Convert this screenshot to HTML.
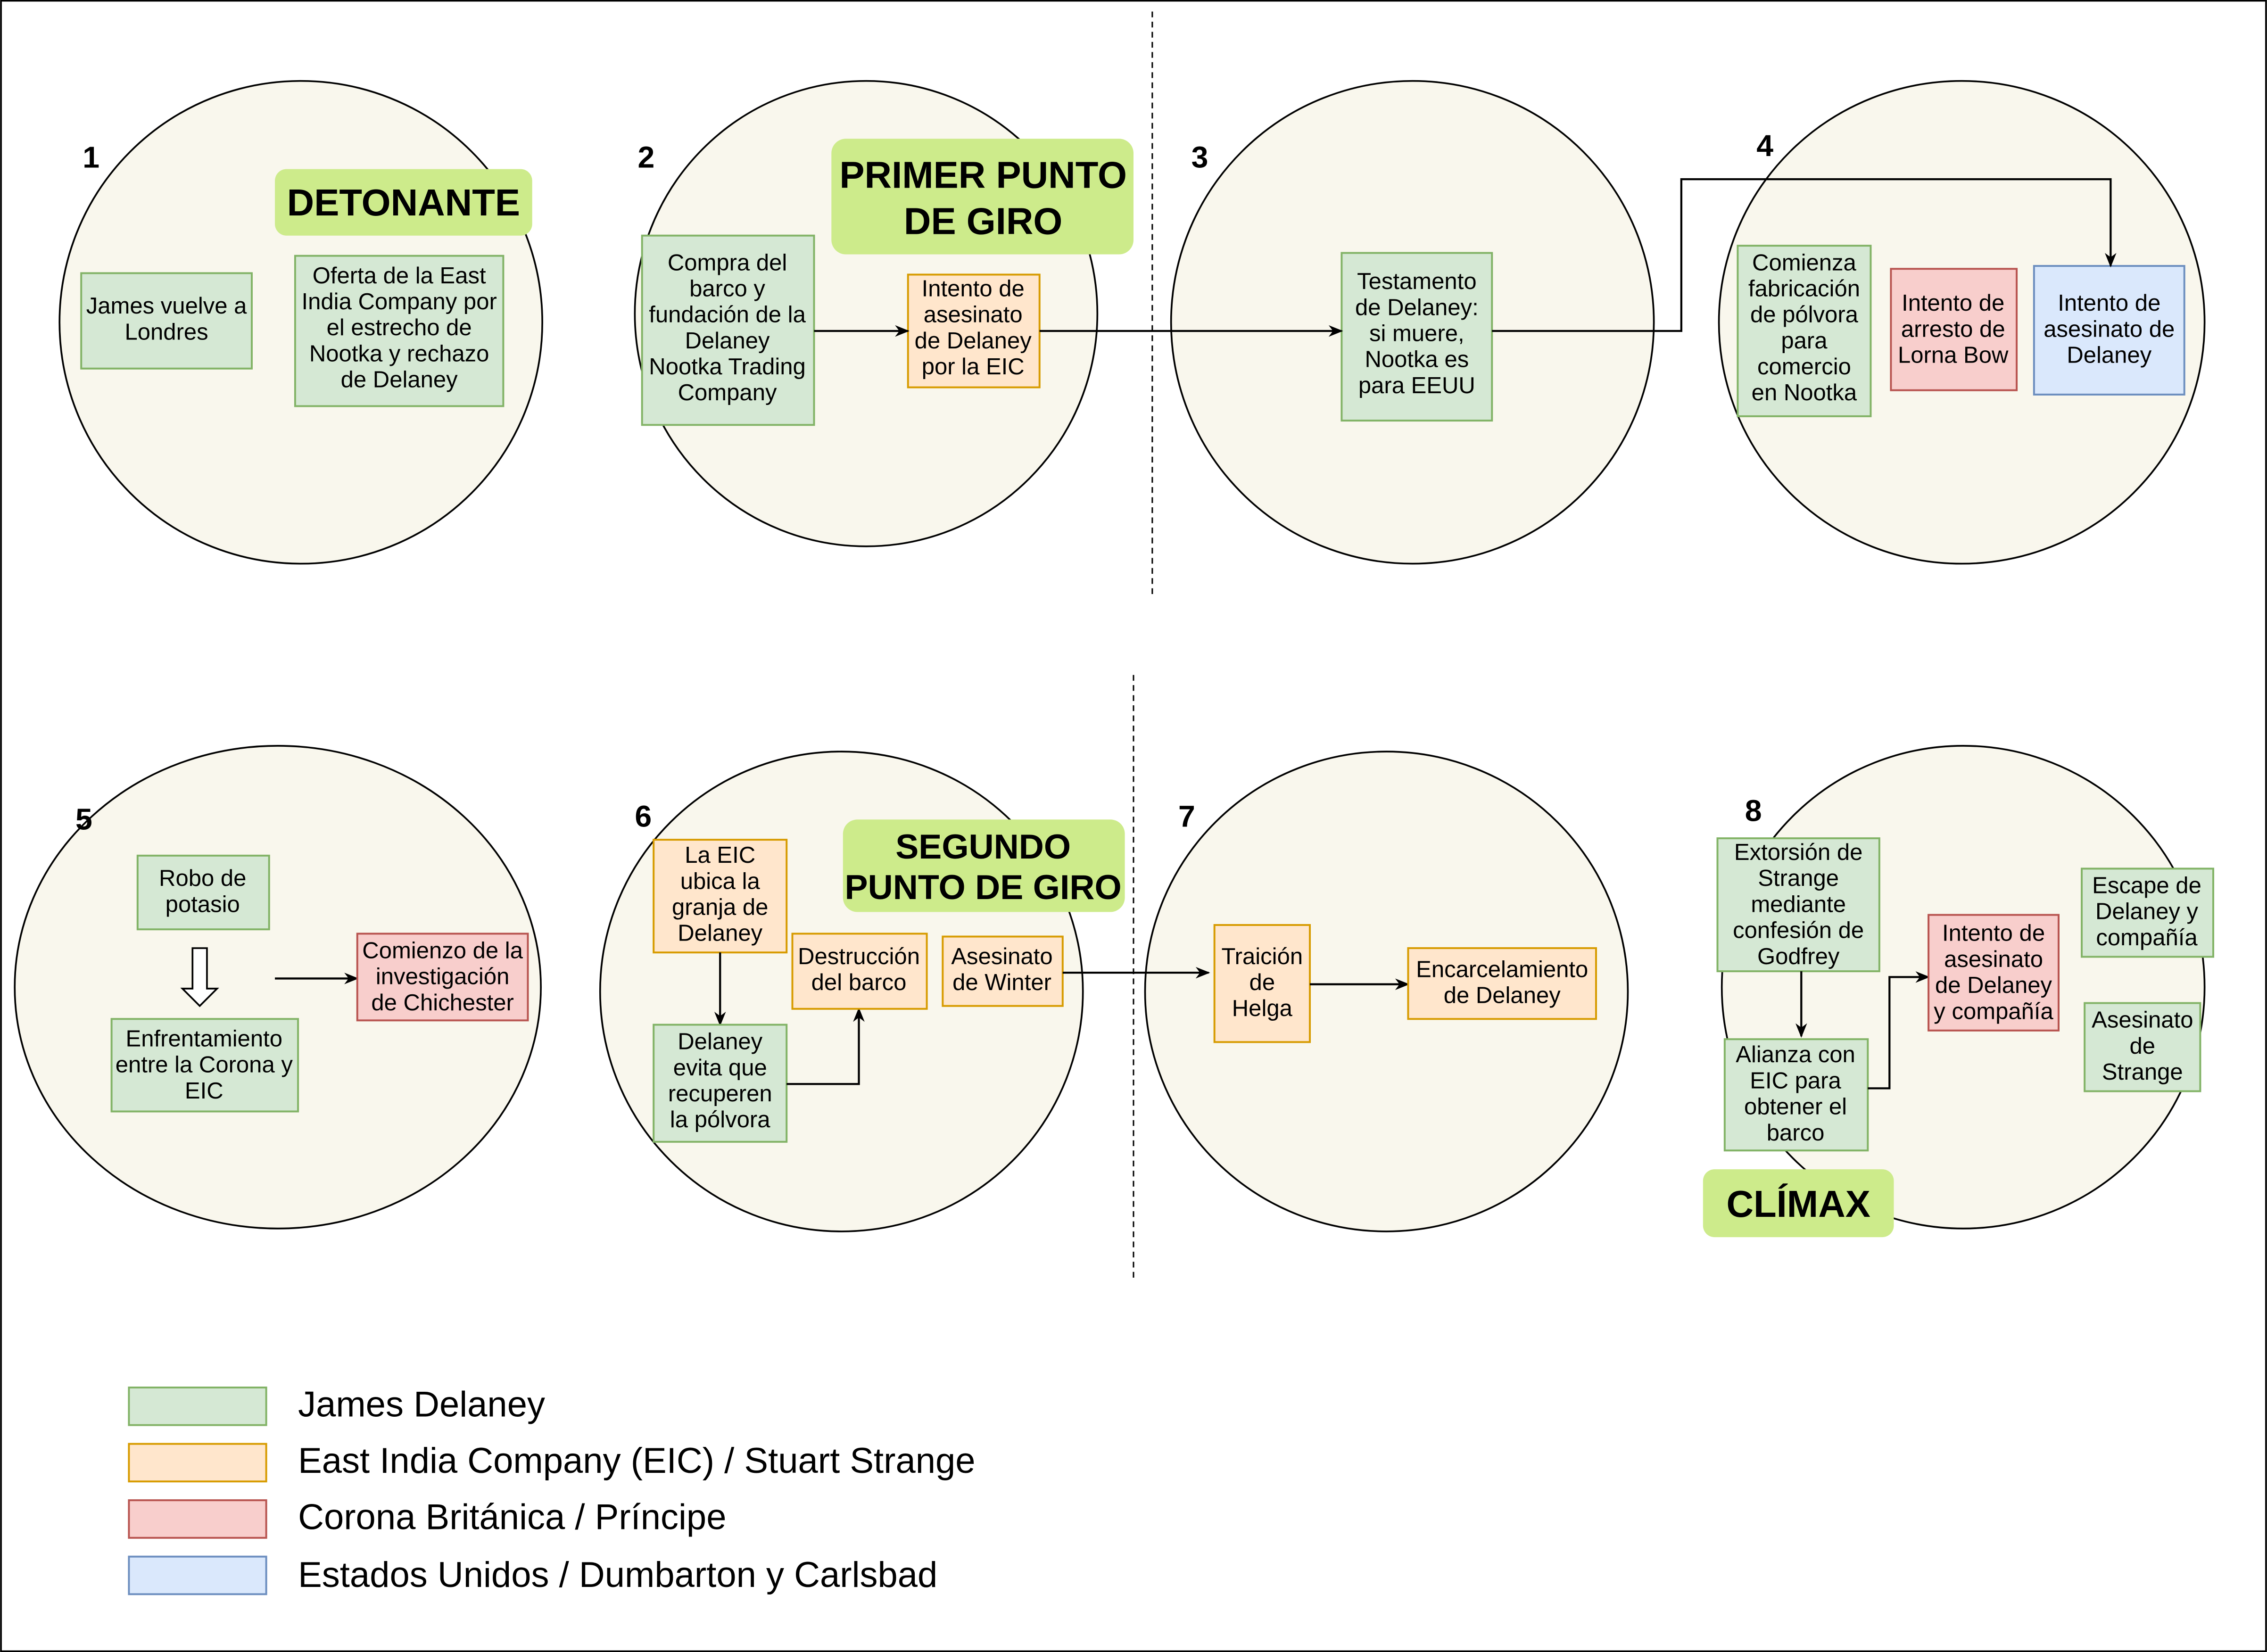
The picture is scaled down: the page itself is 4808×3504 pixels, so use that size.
<!DOCTYPE html>
<html><head><meta charset="utf-8"><style>
html,body{margin:0;padding:0;background:#fff}
svg{display:block}
text{font-family:"Liberation Sans",Arial,sans-serif;fill:#000}
.t{font-size:16px;text-anchor:middle}
.n{font-size:21px;font-weight:bold}
.lab{font-size:26px;font-weight:bold;text-anchor:middle}
.lg{font-size:24.8px}
.g{fill:#d5e8d4;stroke:#82b366;stroke-width:1.3}
.o{fill:#ffe6cc;stroke:#d79b00;stroke-width:1.3}
.r{fill:#f8cecc;stroke:#b85450;stroke-width:1.3}
.b{fill:#dae8fc;stroke:#6c8ebf;stroke-width:1.3}
.c{fill:#f9f7ed;stroke:#000;stroke-width:1.2}
.hl{fill:#cdeb8b;stroke:none}
.a{fill:none;stroke:#000;stroke-width:1.4;marker-end:url(#ar)}
</style></head><body>
<svg width="4808" height="3504" viewBox="0 0 1568 1143" xmlns="http://www.w3.org/2000/svg">
<defs><marker id="ar" markerWidth="10" markerHeight="10" refX="9" refY="5" orient="auto" markerUnits="userSpaceOnUse"><path d="M0,1 L10,5 L0,9 L3,5 Z" fill="#000"/></marker></defs>
<rect x="0.5" y="0.5" width="1567" height="1142" fill="#fff" stroke="#000" stroke-width="1.2"/>
<line x1="797" y1="8" x2="797" y2="412" stroke="#000" stroke-dasharray="4,3"/>
<line x1="784" y1="467" x2="784" y2="885" stroke="#000" stroke-dasharray="4,3"/>

<ellipse class="c" cx="208" cy="223" rx="167" ry="167"/>
<ellipse class="c" cx="599" cy="217" rx="160" ry="161"/>
<ellipse class="c" cx="977" cy="223" rx="167" ry="167"/>
<ellipse class="c" cx="1357" cy="223" rx="168" ry="167"/>
<ellipse class="c" cx="192" cy="683" rx="182" ry="167"/>
<ellipse class="c" cx="582" cy="686" rx="167" ry="166"/>
<ellipse class="c" cx="959" cy="686" rx="167" ry="166"/>
<ellipse class="c" cx="1358" cy="683" rx="167" ry="167"/>

<text class="n" x="57" y="116">1</text>
<text class="n" x="441" y="116">2</text>
<text class="n" x="824" y="116">3</text>
<text class="n" x="1215" y="108">4</text>
<text class="n" x="52" y="574">5</text>
<text class="n" x="439" y="572">6</text>
<text class="n" x="815" y="572">7</text>
<text class="n" x="1207" y="568">8</text>

<rect class="g" x="56" y="189" width="118" height="66"/>
<text class="t"><tspan x="115" y="217">James vuelve a</tspan><tspan x="115" y="235">Londres</tspan></text>
<rect class="hl" x="190" y="117" width="178" height="46" rx="8"/>
<text class="lab" x="279" y="149">DETONANTE</text>
<rect class="g" x="204" y="177" width="144" height="104"/>
<text class="t"><tspan x="276" y="196">Oferta de la East</tspan><tspan x="276" y="214">India Company por</tspan><tspan x="276" y="232">el estrecho de</tspan><tspan x="276" y="250">Nootka y rechazo</tspan><tspan x="276" y="268">de Delaney</tspan></text>

<rect class="g" x="444" y="163" width="119" height="131"/>
<text class="t"><tspan x="503" y="187">Compra del</tspan><tspan x="503" y="205">barco y</tspan><tspan x="503" y="223">fundación de la</tspan><tspan x="503" y="241">Delaney</tspan><tspan x="503" y="259">Nootka Trading</tspan><tspan x="503" y="277">Company</tspan></text>
<rect class="hl" x="575" y="96" width="209" height="80" rx="10"/>
<text class="lab"><tspan x="680" y="130">PRIMER PUNTO</tspan><tspan x="680" y="162">DE GIRO</tspan></text>
<rect class="o" x="628" y="190" width="91" height="78"/>
<text class="t"><tspan x="673" y="205">Intento de</tspan><tspan x="673" y="223">asesinato</tspan><tspan x="673" y="241">de Delaney</tspan><tspan x="673" y="259">por la EIC</tspan></text>

<rect class="g" x="928" y="175" width="104" height="116"/>
<text class="t"><tspan x="980" y="200">Testamento</tspan><tspan x="980" y="218">de Delaney:</tspan><tspan x="980" y="236">si muere,</tspan><tspan x="980" y="254">Nootka es</tspan><tspan x="980" y="272">para EEUU</tspan></text>

<rect class="g" x="1202" y="170" width="92" height="118"/>
<text class="t"><tspan x="1248" y="187">Comienza</tspan><tspan x="1248" y="205">fabricación</tspan><tspan x="1248" y="223">de pólvora</tspan><tspan x="1248" y="241">para</tspan><tspan x="1248" y="259">comercio</tspan><tspan x="1248" y="277">en Nootka</tspan></text>
<rect class="r" x="1308" y="186" width="87" height="84"/>
<text class="t"><tspan x="1351" y="215">Intento de</tspan><tspan x="1351" y="233">arresto de</tspan><tspan x="1351" y="251">Lorna Bow</tspan></text>
<rect class="b" x="1407" y="184" width="104" height="89"/>
<text class="t"><tspan x="1459" y="215">Intento de</tspan><tspan x="1459" y="233">asesinato de</tspan><tspan x="1459" y="251">Delaney</tspan></text>

<path class="a" d="M563,229 L628,229"/>
<path class="a" d="M719,229 L928,229"/>
<path class="a" d="M1032,229 L1163,229 L1163,124 L1460,124 L1460,184"/>

<rect class="g" x="95" y="592" width="91" height="51"/>
<text class="t"><tspan x="140" y="613">Robo de</tspan><tspan x="140" y="631">potasio</tspan></text>
<path d="M133,656 L143,656 L143,684 L150,684 L138,696 L126,684 L133,684 Z" fill="#fff" stroke="#000" stroke-width="1.2"/>
<rect class="g" x="77" y="705" width="129" height="64"/>
<text class="t"><tspan x="141" y="724">Enfrentamiento</tspan><tspan x="141" y="742">entre la Corona y</tspan><tspan x="141" y="760">EIC</tspan></text>
<path class="a" d="M190,677 L247,677"/>
<rect class="r" x="247" y="646" width="118" height="60"/>
<text class="t"><tspan x="306" y="663">Comienzo de la</tspan><tspan x="306" y="681">investigación</tspan><tspan x="306" y="699">de Chichester</tspan></text>

<rect class="o" x="452" y="581" width="92" height="78"/>
<text class="t"><tspan x="498" y="597">La EIC</tspan><tspan x="498" y="615">ubica la</tspan><tspan x="498" y="633">granja de</tspan><tspan x="498" y="651">Delaney</tspan></text>
<path class="a" d="M498,659 L498,709"/>
<rect class="g" x="452" y="709" width="92" height="81"/>
<text class="t"><tspan x="498" y="726">Delaney</tspan><tspan x="498" y="744">evita que</tspan><tspan x="498" y="762">recuperen</tspan><tspan x="498" y="780">la pólvora</tspan></text>
<path class="a" d="M544,750 L594,750 L594,698"/>
<rect class="o" x="548" y="646" width="93" height="52"/>
<text class="t"><tspan x="594" y="667">Destrucción</tspan><tspan x="594" y="685">del barco</tspan></text>
<rect class="hl" x="583" y="567" width="195" height="64" rx="10"/>
<text class="lab" style="font-size:24px"><tspan x="680" y="594">SEGUNDO</tspan><tspan x="680" y="622">PUNTO DE GIRO</tspan></text>
<rect class="o" x="652" y="648" width="83" height="48"/>
<text class="t"><tspan x="693" y="667">Asesinato</tspan><tspan x="693" y="685">de Winter</tspan></text>
<path class="a" d="M735,673 L836,673"/>

<rect class="o" x="840" y="640" width="66" height="81"/>
<text class="t"><tspan x="873" y="667">Traición</tspan><tspan x="873" y="685">de</tspan><tspan x="873" y="703">Helga</tspan></text>
<path class="a" d="M906,681 L974,681"/>
<rect class="o" x="974" y="656" width="130" height="49"/>
<text class="t"><tspan x="1039" y="676">Encarcelamiento</tspan><tspan x="1039" y="694">de Delaney</tspan></text>

<rect class="g" x="1188" y="580" width="112" height="92"/>
<text class="t"><tspan x="1244" y="595">Extorsión de</tspan><tspan x="1244" y="613">Strange</tspan><tspan x="1244" y="631">mediante</tspan><tspan x="1244" y="649">confesión de</tspan><tspan x="1244" y="667">Godfrey</tspan></text>
<path class="a" d="M1246,672 L1246,717"/>
<rect class="g" x="1193" y="719" width="99" height="77"/>
<text class="t"><tspan x="1242" y="735">Alianza con</tspan><tspan x="1242" y="753">EIC para</tspan><tspan x="1242" y="771">obtener el</tspan><tspan x="1242" y="789">barco</tspan></text>
<path class="a" d="M1292,753 L1307,753 L1307,676 L1334,676"/>
<rect class="r" x="1334" y="633" width="90" height="80"/>
<text class="t"><tspan x="1379" y="651">Intento de</tspan><tspan x="1379" y="669">asesinato</tspan><tspan x="1379" y="687">de Delaney</tspan><tspan x="1379" y="705">y compañía</tspan></text>
<rect class="g" x="1440" y="601" width="91" height="61"/>
<text class="t"><tspan x="1485" y="618">Escape de</tspan><tspan x="1485" y="636">Delaney y</tspan><tspan x="1485" y="654">compañía</tspan></text>
<rect class="g" x="1442" y="694" width="80" height="61"/>
<text class="t"><tspan x="1482" y="711">Asesinato</tspan><tspan x="1482" y="729">de</tspan><tspan x="1482" y="747">Strange</tspan></text>
<rect class="hl" x="1178" y="809" width="132" height="47" rx="8"/>
<text class="lab" x="1244" y="842">CLÍMAX</text>

<rect class="g" x="89" y="960" width="95" height="26"/>
<rect class="o" x="89" y="999" width="95" height="26"/>
<rect class="r" x="89" y="1038" width="95" height="26"/>
<rect class="b" x="89" y="1077" width="95" height="26"/>
<text class="lg" x="206" y="980">James Delaney</text>
<text class="lg" x="206" y="1019">East India Company (EIC) / Stuart Strange</text>
<text class="lg" x="206" y="1058">Corona Británica / Príncipe</text>
<text class="lg" x="206" y="1098">Estados Unidos / Dumbarton y Carlsbad</text>
</svg>
</body></html>
